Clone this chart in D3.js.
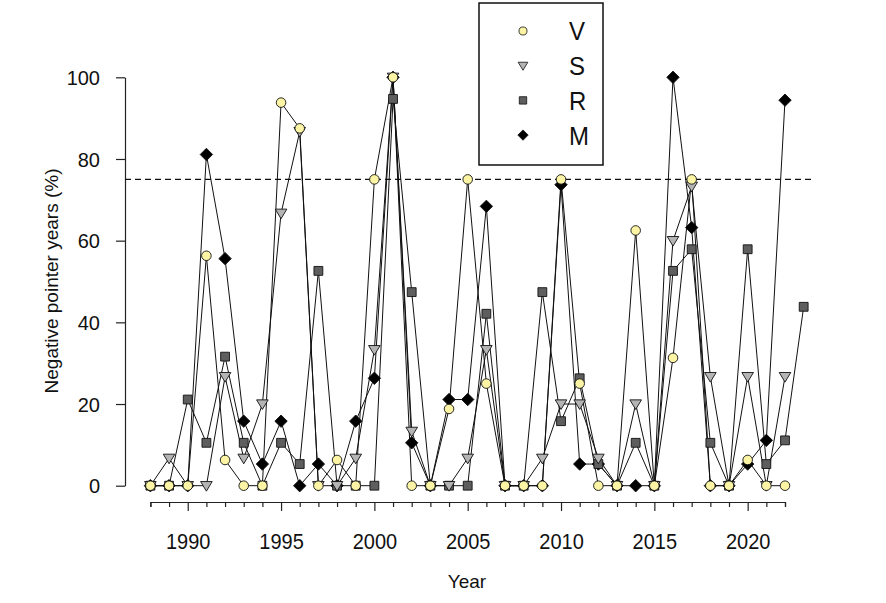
<!DOCTYPE html>
<html>
<head>
<meta charset="utf-8">
<script src="https://cdn.jsdelivr.net/npm/d3@7"></script>
<style>
  body { margin: 0; background: #fff; }
  text { font-family: "Liberation Sans", Arial, sans-serif; fill: #111; }
  .axis path, .axis line { stroke: #222; stroke-width: 1.2px; }
</style>
</head>
<body>
<svg id="chart" width="886" height="603"></svg>
<script>
var years = d3.range(1988, 2023);          // V, S, M
var yearsR = d3.range(1988, 2024);         // R has one extra year
var valuesV = [0,0,0,56.3,6.3,0,0,93.8,87.5,0,6.3,0,75,100,0,0,18.8,75,25,0,0,0,75,25,0,0,62.5,0,31.3,75,0,0,6.3,0,0];
var valuesS = [0,6.7,0,0,26.7,6.7,20,66.7,86.7,0,0,6.7,33.3,100,13.3,0,0,6.7,33.3,0,0,6.7,20,20,6.7,0,20,0,60,73.3,26.7,0,26.7,0,26.7];
var valuesR = [0,0,21.1,10.5,31.6,10.5,0,10.5,5.3,52.6,0,0,0,94.7,47.4,0,0,0,42.1,0,0,47.4,15.8,26.3,5.3,0,10.5,0,52.6,57.9,10.5,0,57.9,5.3,11.1,43.8];
var valuesM = [0,0,0,81.1,55.6,15.8,5.3,15.8,0,5.3,0,15.8,26.3,100,10.5,0,21.1,21.1,68.4,0,0,0,73.7,5.3,5.3,0,0,0,100,63.2,0,0,5.3,11.1,94.4];
var yTicks = [0, 20, 40, 60, 80, 100];
var xMajor = [1990, 1995, 2000, 2005, 2010, 2015, 2020];
var threshold = 75;

var series = [
  { name: "M", x: years,  y: valuesM, fill: "#000000", shape: "diamond" },
  { name: "R", x: yearsR, y: valuesR, fill: "#5e5e5e", shape: "square" },
  { name: "S", x: years,  y: valuesS, fill: "#b4b4b4", shape: "triangle" },
  { name: "V", x: years,  y: valuesV, fill: "#fbf4a4", shape: "circle" }
];
var legendOrder = ["V", "S", "R", "M"];

var svg = d3.select("#chart");

var x = d3.scaleLinear().domain([1988, 2022]).range([150.4, 785]);
var y = d3.scaleLinear().domain([0, 100]).range([485.7, 77.3]);

function symbolPath(shape, k) {
  k = k || 1;
  if (shape === "circle") return d3.symbol(d3.symbolCircle, 72 * k)();
  if (shape === "square") return d3.symbol(d3.symbolSquare, 78 * k)();
  if (shape === "diamond") {
    var h = 6.2 * Math.sqrt(k);
    return "M0," + (-h) + "L" + h + ",0L0," + h + "L" + (-h) + ",0Z";
  }
  // downward triangle
  var w = 5.8 * Math.sqrt(k), t = 5.2 * Math.sqrt(k);
  return "M" + (-w) + "," + (-t * 0.8) + "L" + w + "," + (-t * 0.8) + "L0," + (t * 1.05) + "Z";
}

// y axis
var yAxis = svg.append("g")
  .attr("class", "axis")
  .attr("transform", "translate(125,0)")
  .call(d3.axisLeft(y).tickValues(yTicks).tickSize(9).tickSizeOuter(0));
yAxis.selectAll("text")
  .style("font-size", "20px")
  .attr("x", -25)
  .attr("dy", "0.36em");

// x axis: minor ticks each year, major every 5
var xAxisG = svg.append("g")
  .attr("class", "axis")
  .attr("transform", "translate(0,502)")
  .call(d3.axisBottom(x).tickValues(years).tickSizeOuter(0).tickSize(5).tickFormat(""));
xAxisG.selectAll(".tick")
  .filter(function (d) { return xMajor.indexOf(d) >= 0; })
  .select("line").attr("y2", 9);
xAxisG.selectAll(".tick")
  .filter(function (d) { return xMajor.indexOf(d) >= 0; })
  .append("text")
  .attr("y", 42.5)
  .attr("text-anchor", "middle")
  .attr("transform", "scale(1,1.1)")
  .style("font-size", "20px")
  .text(function (d) { return d; });

// axis titles
svg.append("text")
  .attr("x", 467).attr("y", 588)
  .attr("text-anchor", "middle")
  .style("font-size", "19px")
  .text("Year");
svg.append("text")
  .attr("transform", "translate(58,281) rotate(-90)")
  .attr("text-anchor", "middle")
  .style("font-size", "19px")
  .text("Negative pointer years (%)");

// threshold
svg.append("line")
  .attr("x1", 125).attr("x2", 812)
  .attr("y1", y(threshold)).attr("y2", y(threshold))
  .attr("stroke", "#111")
  .attr("stroke-width", 1.1)
  .attr("stroke-dasharray", "6,4");

// lines
var line = d3.line()
  .x(function (d) { return x(d[0]); })
  .y(function (d) { return y(d[1]); });

series.forEach(function (s) {
  svg.append("path")
    .datum(d3.zip(s.x, s.y))
    .attr("d", line)
    .attr("fill", "none")
    .attr("stroke", "#111")
    .attr("stroke-width", 1);
});

// markers
series.forEach(function (s) {
  svg.append("g").selectAll("path")
    .data(d3.zip(s.x, s.y))
    .enter()
    .append("path")
    .attr("d", symbolPath(s.shape))
    .attr("transform", function (d) { return "translate(" + x(d[0]) + "," + y(d[1]) + ")"; })
    .attr("fill", s.fill)
    .attr("stroke", "#111")
    .attr("stroke-width", 0.9);
});

// legend
var legend = svg.append("g");
legend.append("rect")
  .attr("x", 479).attr("y", 3)
  .attr("width", 124).attr("height", 162)
  .attr("fill", "#fff")
  .attr("stroke", "#111")
  .attr("stroke-width", 1.5);

legendOrder.forEach(function (name, i) {
  var s = series.filter(function (d) { return d.name === name; })[0];
  var cy = 31 + i * 34.7;
  legend.append("path")
    .attr("d", symbolPath(s.shape, 0.7))
    .attr("transform", "translate(523," + cy + ")")
    .attr("fill", s.fill)
    .attr("stroke", "#111")
    .attr("stroke-width", 0.8);
  legend.append("text")
    .attr("x", 569).attr("y", (cy + 9.5) / 1.1)
    .attr("transform", "scale(1,1.1)")
    .style("font-size", "24px")
    .text(name);
});
</script>
</body>
</html>
